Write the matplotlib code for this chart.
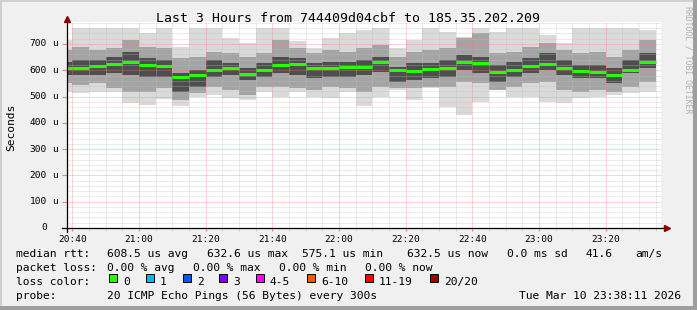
import numpy as np
import matplotlib
matplotlib.use("Agg")
import matplotlib.pyplot as plt
from matplotlib.patches import Rectangle

W, H = 697, 310
MONO = "DejaVu Sans Mono"

# ---- data (minutes after 20:40, values in microseconds) ----
col_start = list(range(-5, 175, 5))
median = [609, 609, 615, 625, 632.6, 621, 615, 575.1, 583, 600, 609, 587,
          601, 620, 625, 609, 609, 612, 614, 630, 601, 598, 604, 607,
          631, 629, 593, 601, 616, 624, 607, 596, 595, 583, 601, 632.5]
smoke_hi = [715, 762, 762, 762, 762, 740, 762, 690, 760, 760, 721, 702,
            760, 760, 710, 683, 721, 740, 753, 760, 683, 715, 760, 744,
            727, 760, 744, 760, 760, 734, 702, 760, 760, 760, 760, 753]
smoke_lo = [518, 512, 519, 519, 476, 468, 491, 464, 500, 506, 495, 485,
            519, 500, 519, 500, 493, 519, 464, 500, 525, 487, 532, 462,
            430, 481, 525, 500, 500, 481, 474, 493, 500, 506, 512, 519]
mid_hi = [677, 690, 677, 683, 715, 690, 683, 645, 652, 671, 664, 652,
          664, 715, 683, 664, 677, 671, 683, 696, 652, 671, 677, 683,
          721, 740, 664, 671, 690, 702, 677, 664, 671, 652, 677, 715]
mid_lo = [550, 544, 550, 531, 519, 519, 531, 487, 512, 538, 525, 506,
          538, 538, 531, 525, 538, 531, 519, 538, 531, 531, 538, 538,
          557, 550, 525, 538, 550, 557, 525, 519, 525, 519, 538, 557]
dark_hi = [633, 639, 639, 652, 671, 645, 639, 588, 601, 639, 626, 607,
           626, 652, 645, 626, 633, 633, 639, 652, 614, 626, 626, 639,
           658, 652, 620, 633, 645, 664, 639, 620, 620, 607, 639, 664]
dark_lo = [582, 582, 582, 588, 582, 576, 576, 519, 538, 576, 582, 563,
           576, 588, 582, 569, 576, 576, 582, 595, 557, 563, 569, 576,
           601, 588, 557, 576, 588, 601, 582, 569, 569, 550, 588, 607]

x_ticks = [0, 20, 40, 60, 80, 100, 120, 140, 160]
x_labels = ["20:40", "21:00", "21:20", "21:40", "22:00", "22:20", "22:40", "23:00", "23:20"]
y_ticks = [0, 100, 200, 300, 400, 500, 600, 700]

loss_labels = ["0", "1", "2", "3", "4-5", "6-10", "11-19", "20/20"]
loss_colors = ["#26ff00", "#00b8ff", "#0059ff", "#7e00ff", "#ff00ff", "#ff5500", "#ff0000", "#a10000"]

title = "Last 3 Hours from 744409d04cbf to 185.35.202.209"


def fx(x):
    return x / W


def fy(y):
    return 1 - y / H


def frame(x0, y0, x1, y1, color):
    # rectangle given in pixel coords (top-left origin)
    fig.patches.append(Rectangle((fx(x0), fy(y1)), fx(x1) - fx(x0), fy(y0) - fy(y1),
                                 transform=fig.transFigure, facecolor=color, edgecolor="none"))


fig = plt.figure(figsize=(W / 100, H / 100), dpi=100, facecolor="#f0f0f0")

# 3d frame of the rrdtool canvas
frame(0, 0, W, 2, "#cfcfcf")
frame(0, 0, 2, H, "#cfcfcf")
frame(0, 306, W, H, "#9e9e9e")
frame(693, 0, W, H, "#9e9e9e")

ax = fig.add_axes([fx(67), fy(228), fx(661) - fx(67), fy(22) - fy(228)])
ax.set_facecolor("white")
ax.set_xlim(-1.6, 176.6)
ax.set_ylim(0, 783.6)

# smoke
ax.bar(col_start, np.subtract(smoke_hi, smoke_lo), bottom=smoke_lo, width=5, align="edge",
       color="#dadada", linewidth=0, zorder=1)
ax.bar(col_start, np.subtract(mid_hi, mid_lo), bottom=mid_lo, width=5, align="edge",
       color="#a4a4a4", linewidth=0, zorder=2)
ax.bar(col_start, np.subtract(dark_hi, dark_lo), bottom=dark_lo, width=5, align="edge",
       color="#4e4e4e", linewidth=0, zorder=3)

# grid on top of smoke
for t in range(0, 180, 5):
    major = t % 20 == 0
    ax.axvline(t, color=(1, 0.45, 0.45, 0.6) if major else (0.75, 0.75, 0.75, 0.6),
               linestyle=(0, (1, 1)), linewidth=0.72, zorder=4)
for v in range(20, 784, 20):
    major = v % 100 == 0
    ax.axhline(v, color=(1, 0.45, 0.45, 0.6) if major else (0.75, 0.75, 0.75, 0.6),
               linestyle=(0, (1, 1)), linewidth=0.72, zorder=4)

# median
ax.hlines(median, np.array(col_start), np.array(col_start) + 5, color="#26ff00", linewidth=2.2, zorder=5)

for s in ax.spines.values():
    s.set_visible(False)
ax.set_xticks(x_ticks)
ax.set_xticklabels(x_labels, family=MONO, fontsize=6.8)
ax.set_xticks(range(0, 180, 5), minor=True)
ax.tick_params(axis="x", which="major", length=2.5, color="#f08080", pad=2.5)
ax.tick_params(axis="x", which="minor", length=2.5, color="#c8c8c8")
ax.set_yticks(y_ticks)
ax.set_yticklabels([])
ax.tick_params(axis="y", length=3.5, color="#f08080")
for v in y_ticks:
    ax.text(-0.0337, v, str(v), transform=ax.get_yaxis_transform(), ha="right", va="center",
            family=MONO, fontsize=6.8)
    if v:
        ax.text(-0.0253, v, "u", transform=ax.get_yaxis_transform(), ha="left", va="center",
                family=MONO, fontsize=6.8)

# axis lines with arrows
ax.plot([-3, 177.5], [0, 0], color="black", linewidth=0.9, clip_on=False, zorder=6)
ax.plot([-1.6, -1.6], [-15, 790], color="black", linewidth=0.9, clip_on=False, zorder=6)
ax.plot([178.3], [0], marker=">", color="#8b0000", markersize=4.5, clip_on=False, zorder=7)
ax.plot([-1.6], [795], marker="^", color="#8b0000", markersize=4.5, clip_on=False, zorder=7)

fig.text(0.5, fy(19), title, ha="center", va="center", family=MONO, fontsize=9.5)
fig.text(fx(11), fy(127), "Seconds", rotation=90, ha="center", va="center", family=MONO, fontsize=8.1)
fig.text(fx(688), fy(60), "RRDTOOL / TOBI OETIKER", rotation=270, ha="center", va="center",
         family=MONO, fontsize=5.9, color="#b0b0b0")

fs = 8.1
rows = [
    (254, [(16, "median rtt:"), (107, "608.5 us avg"), (207, "632.6 us max"), (302, "575.1 us min"),
           (407, "632.5 us now"), (507, "0.0 ms sd"), (586, "41.6"), (635, "am/s")]),
    (268, [(16, "packet loss:"), (107, "0.00 % avg"), (193, "0.00 % max"), (279, "0.00 % min"),
           (365, "0.00 % now")]),
    (296, [(16, "probe:"), (107, "20 ICMP Echo Pings (56 Bytes) every 300s")]),
]
for y, items in rows:
    for x, s in items:
        fig.text(fx(x), fy(y), s, ha="left", va="center", family=MONO, fontsize=fs)
fig.text(fx(681), fy(296), "Tue Mar 10 23:38:11 2026", ha="right", va="center", family=MONO, fontsize=fs)

fig.text(fx(16), fy(282), "loss color:", ha="left", va="center", family=MONO, fontsize=fs)
box_x = [109, 146, 183, 219, 256, 307, 365, 430]
for bx, lab, col in zip(box_x, loss_labels, loss_colors):
    fig.patches.append(Rectangle((fx(bx), fy(282)), fx(8), fy(274) - fy(282), transform=fig.transFigure,
                                 facecolor=col, edgecolor="black", linewidth=0.7))
    fig.text(fx(bx + 14), fy(282), lab, ha="left", va="center", family=MONO, fontsize=fs)

fig.savefig("out.png", dpi=100, facecolor=fig.get_facecolor())
